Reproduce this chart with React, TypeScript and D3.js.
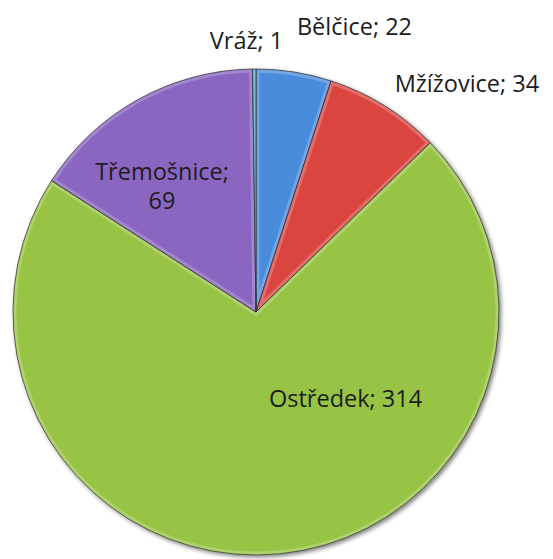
import React from 'react';
import { pie, arc, scaleOrdinal } from 'd3';

const width = 553;
const height = 559;
const cx = 256;
const cy = 312;
const radius = 243;

const towns = ['Bělčice', 'Mžížovice', 'Ostředek', 'Třemošnice', 'Vráž'];
const counts = [22, 34, 314, 69, 1];
const colors = ['#4a8cdb', '#da4440', '#98c444', '#8a66c0', '#4bacc6'];

// label placement: angle in degrees from 12 o'clock, distance as share of radius
const labelAngle = [19, 42.7, 133.7, 323.5, 358];
const labelDist = [1.245, 1.28, 0.51, 0.65, 1.12];
const twoLine = [false, false, false, true, false];

const color = scaleOrdinal<string, string>().domain(towns).range(colors);

const createPie = pie<number>().sort(null).value(d => d);
const path = arc<any>().innerRadius(0).outerRadius(radius);

export default function App() {
    const slices = createPie(counts);
    const font = '"Open Sans", "Noto Sans", sans-serif';

    return (
        <svg width={width} height={height} style={{ position: 'absolute', left: 0, top: 0 }}>
            <defs>
                <filter id="shadow" x="-10%" y="-10%" width="120%" height="120%">
                    <feGaussianBlur in="SourceAlpha" stdDeviation="2" />
                    <feOffset dx="1.5" dy="1.5" />
                    <feComponentTransfer><feFuncA type="linear" slope="0.5" /></feComponentTransfer>
                    <feMerge><feMergeNode /><feMergeNode in="SourceGraphic" /></feMerge>
                </filter>
                {slices.map((s, i) => (
                    <clipPath id={'clip' + i} key={i}>
                        <path d={path(s) || ''} />
                    </clipPath>
                ))}
            </defs>
            <g transform={`translate(${cx},${cy})`} filter="url(#shadow)">
                {slices.map((s, i) => (
                    <g key={i}>
                        <path d={path(s) || ''} fill={color(towns[i])} />
                        <g clipPath={`url(#clip${i})`}>
                            <path d={path(s) || ''} fill="none" stroke="#fff" strokeOpacity="0.22" strokeWidth="7" />
                        </g>
                        <path d={path(s) || ''} fill="none" stroke="#2a2a2a" strokeOpacity="0.7" strokeWidth="1" />
                    </g>
                ))}
            </g>
            <g fontFamily={font} fontSize="23.5" fill="#1c1c1c" textAnchor="middle">
                {slices.map((s, i) => {
                    const a = (labelAngle[i] * Math.PI) / 180;
                    const d = labelDist[i] * radius;
                    const x = cx + d * Math.sin(a);
                    const y = cy - d * Math.cos(a);
                    if (twoLine[i]) {
                        return (
                            <text key={i} x={x} y={y} dominantBaseline="central">
                                <tspan x={x} dy="-0.6em">{towns[i] + ';'}</tspan>
                                <tspan x={x} dy="1.25em">{counts[i]}</tspan>
                            </text>
                        );
                    }
                    return (
                        <text key={i} x={x} y={y} dominantBaseline="central">
                            {`${towns[i]}; ${counts[i]}`}
                        </text>
                    );
                })}
            </g>
        </svg>
    );
}
